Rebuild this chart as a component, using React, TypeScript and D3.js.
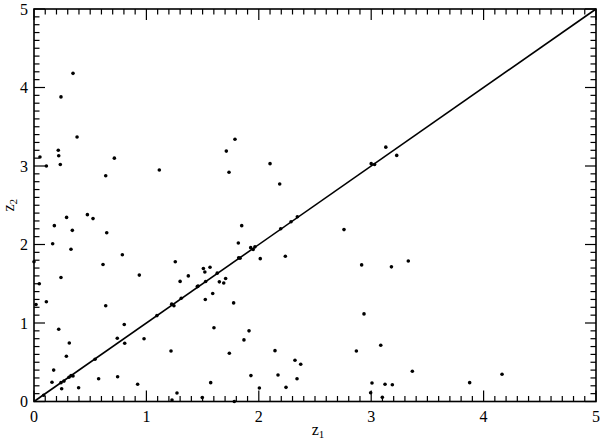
import { useEffect, useRef } from "react"
import * as d3 from "d3"

// z1 / z2 pairs
const z1 = [
    0.347, 0.24, 0.383, 0.053, 0.11, 0.216, 0.22, 0.234, 0.715, 0.638,
    1.115, 0.29, 0.181, 0.341, 0.475, 0.525, 0.647, 0.166, 0.329, 0.786,
    0.614, 1.257, 0.0, 0.24, 0.937, 1.373, 0.047, 0.018, 0.11, 0.638,
    1.3, 1.31, 1.225, 1.245, 1.46, 1.094, 0.22, 0.803, 0.314, 0.741,
    0.979, 0.807, 0.288, 0.543, 1.219, 0.175, 0.16, 0.24, 0.267, 0.311,
    0.33, 0.347, 0.246, 0.575, 0.744, 0.397, 0.922, 0.086, 1.228, 1.272,
    1.788, 1.711, 1.735, 2.1, 2.186, 3.13, 3.0, 3.03, 1.848, 1.818,
    1.928, 1.966, 1.95, 2.013, 1.821, 1.833, 2.195, 2.287, 2.343, 2.236,
    2.758, 2.915, 1.507, 1.52, 1.566, 1.63, 1.453, 1.527, 1.649, 1.688,
    1.705, 1.59, 1.524, 1.776, 1.601, 1.913, 1.868, 1.738, 2.144, 2.322,
    2.373, 2.171, 1.93, 2.34, 1.572, 2.005, 2.242, 1.497, 1.782, 2.936,
    2.868, 3.085, 3.007, 3.123, 2.995, 3.099, 3.227, 3.18, 3.33, 3.366,
    3.188, 3.876, 4.164,
]
const z2 = [
    4.18, 3.88, 3.37, 3.115, 3.0, 3.2, 3.13, 3.02, 3.1, 2.876,
    2.95, 2.345, 2.24, 2.18, 2.38, 2.33, 2.15, 2.01, 1.94, 1.87,
    1.745, 1.78, 1.78, 1.58, 1.61, 1.6, 1.5, 1.235, 1.27, 1.22,
    1.53, 1.316, 1.24, 1.22, 1.47, 1.094, 0.92, 0.98, 0.746, 0.806,
    0.8, 0.742, 0.576, 0.538, 0.644, 0.4, 0.245, 0.24, 0.26, 0.308,
    0.33, 0.325, 0.163, 0.29, 0.316, 0.176, 0.219, 0.079, 0.02, 0.108,
    3.34, 3.19, 2.92, 3.03, 2.77, 3.24, 3.03, 3.02, 2.24, 2.02,
    1.96, 1.97, 1.936, 1.82, 1.83, 1.826, 2.2, 2.29, 2.353, 1.85,
    2.19, 1.74, 1.694, 1.65, 1.71, 1.635, 1.464, 1.528, 1.524, 1.51,
    1.566, 1.375, 1.3, 1.256, 0.94, 0.9, 0.785, 0.615, 0.648, 0.525,
    0.474, 0.338, 0.33, 0.29, 0.24, 0.172, 0.18, 0.05, 0.0, 1.116,
    0.644, 0.716, 0.236, 0.22, 0.112, 0.053, 3.135, 1.715, 1.79, 0.385,
    0.214, 0.24, 0.347,
]

const majorTicks = [0, 1, 2, 3, 4, 5]
const minorTicks = d3.range(0, 50).map(i => i / 10).filter(v => !majorTicks.includes(v))

export default function App() {
    const ref = useRef<SVGSVGElement | null>(null)

    useEffect(() => {
        const width = 600
        const height = 439
        const margin = { top: 9, right: 4, bottom: 37.5, left: 34 }
        const innerW = width - margin.left - margin.right
        const innerH = height - margin.top - margin.bottom

        const svg = d3.select(ref.current)
        svg.selectAll("*").remove()

        const g = svg.append("g")
            .attr("transform", `translate(${margin.left},${margin.top})`)

        const x = d3.scaleLinear().domain([0, 5]).range([0, innerW])
        const y = d3.scaleLinear().domain([0, 5]).range([innerH, 0])

        const font = "Liberation Serif, Times New Roman, serif"
        const majorLen = 11
        const minorLen = 5.5

        // inward ticks on all four sides
        const ticks = g.append("g").attr("stroke", "#000").attr("stroke-width", 1.2)
        const allTicks = [
            ...majorTicks.map(v => ({ v, len: majorLen })),
            ...minorTicks.map(v => ({ v, len: minorLen })),
        ]
        allTicks.forEach(t => {
            ticks.append("line").attr("x1", x(t.v)).attr("x2", x(t.v)).attr("y1", innerH).attr("y2", innerH - t.len)
            ticks.append("line").attr("x1", x(t.v)).attr("x2", x(t.v)).attr("y1", 0).attr("y2", t.len)
            ticks.append("line").attr("y1", y(t.v)).attr("y2", y(t.v)).attr("x1", 0).attr("x2", t.len)
            ticks.append("line").attr("y1", y(t.v)).attr("y2", y(t.v)).attr("x1", innerW).attr("x2", innerW - t.len)
        })

        g.append("rect")
            .attr("width", innerW)
            .attr("height", innerH)
            .attr("fill", "none")
            .attr("stroke", "#000")
            .attr("stroke-width", 1.6)

        // tick labels
        g.append("g")
            .selectAll("text")
            .data(majorTicks)
            .join("text")
            .attr("x", d => x(d))
            .attr("y", innerH + 20)
            .attr("text-anchor", "middle")
            .style("font-family", font)
            .style("font-size", "16px")
            .text(d => d)

        g.append("g")
            .selectAll("text")
            .data(majorTicks)
            .join("text")
            .attr("x", -6)
            .attr("y", d => y(d) + 5.5)
            .attr("text-anchor", "end")
            .style("font-family", font)
            .style("font-size", "16px")
            .text(d => d)

        // axis titles
        const xl = g.append("text")
            .attr("x", innerW / 2 + 3)
            .attr("y", innerH + 33)
            .attr("text-anchor", "middle")
            .style("font-family", font)
            .style("font-size", "16px")
        xl.append("tspan").text("z")
        xl.append("tspan").style("font-size", "11px").attr("dy", 3).text("1")

        const yl = g.append("text")
            .attr("transform", `translate(${-20},${innerH / 2}) rotate(-90)`)
            .attr("text-anchor", "middle")
            .style("font-family", font)
            .style("font-size", "16px")
        yl.append("tspan").text("z")
        yl.append("tspan").style("font-size", "11px").attr("dy", 3).text("2")

        // z2 = z1 line
        g.append("line")
            .attr("x1", x(0)).attr("y1", y(0))
            .attr("x2", x(5)).attr("y2", y(5))
            .attr("stroke", "#000")
            .attr("stroke-width", 1.6)

        g.append("g")
            .selectAll("circle")
            .data(d3.range(z1.length))
            .join("circle")
            .attr("cx", i => x(z1[i]))
            .attr("cy", i => y(z2[i]))
            .attr("r", 1.8)
            .attr("fill", "#000")
    }, [])

    return (
        <svg
            ref={ref}
            width={600}
            height={439}
            style={{ position: "absolute", left: 0, top: 0, background: "#fff" }}
        />
    )
}
